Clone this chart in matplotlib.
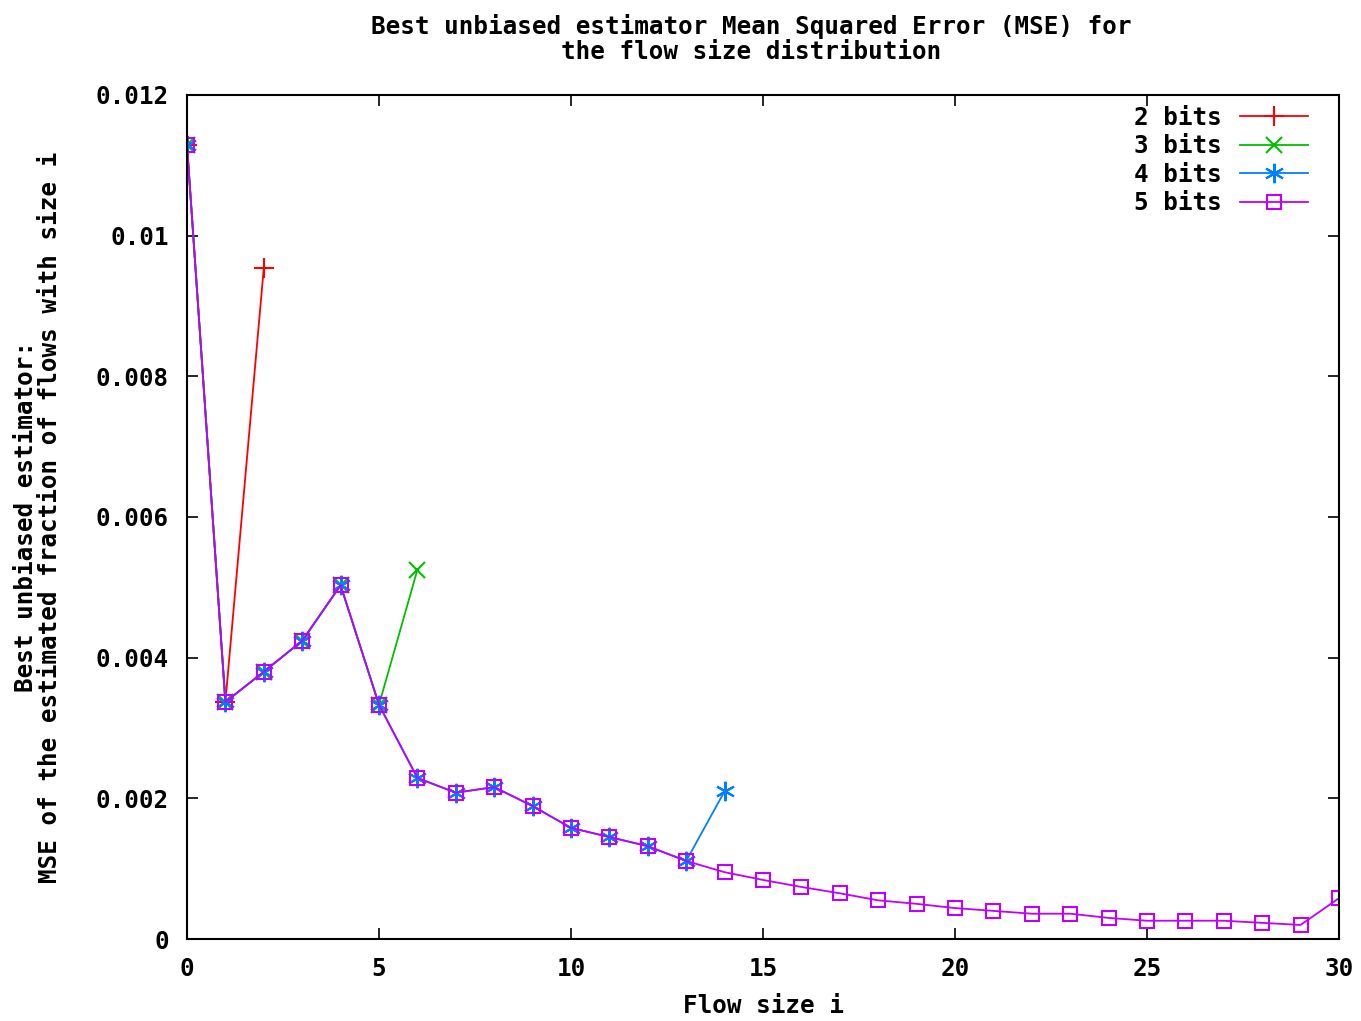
import numpy as np
import matplotlib.pyplot as plt
from matplotlib.ticker import FuncFormatter

plt.rcParams['font.family'] = 'DejaVu Sans Mono'
plt.rcParams['font.weight'] = 'bold'

mse5 = [0.01129, 0.00337, 0.0038, 0.00424, 0.00503, 0.00333, 0.00229, 0.00208,
        0.00216, 0.00189, 0.00158, 0.00145, 0.00132, 0.00111, 0.00095, 0.00084,
        0.00074, 0.00065, 0.00055, 0.0005, 0.00044, 0.0004, 0.00036, 0.00036,
        0.0003, 0.00026, 0.00026, 0.00026, 0.00023, 0.0002, 0.00058]
mse2 = [0.01129, 0.00337, 0.00954]
mse3 = [0.01129, 0.00337, 0.0038, 0.00424, 0.00503, 0.00333, 0.00525]
mse4 = mse5[:14] + [0.0021]

series = [('2 bits', mse2, '#ff0000', '+', 14),
          ('3 bits', mse3, '#00c000', 'x', 12),
          ('4 bits', mse4, '#0080ff', (6, 2, 0), 14),
          ('5 bits', mse5, '#c000ff', 's', 10)]

fs = 17.5
fig = plt.figure(figsize=(13.61, 10.21), dpi=100)
ax = fig.add_axes([0.1374, 0.0803, 0.8464, 0.8267])

for name, vals, col, mk, ms in series:
    x = np.arange(len(vals))
    ax.plot(x, vals, color=col, marker=mk, markersize=ms,
            markerfacecolor='none', markeredgecolor=col, markeredgewidth=1.5,
            linewidth=1.3, label=name)

ax.set_xlim(0, 30)
ax.set_ylim(0, 0.012)
ax.set_xticks(np.arange(0, 31, 5))
ax.set_yticks(np.arange(0, 0.0121, 0.002))
ax.yaxis.set_major_formatter(FuncFormatter(lambda v, p: '0' if v == 0 else ('%.3f' % v).rstrip('0')))
ax.tick_params(direction='in', top=True, right=True, length=8, width=1.2,
               labelsize=fs, pad=13)
for s in ax.spines.values():
    s.set_linewidth(1.5)

ax.set_title('Best unbiased estimator Mean Squared Error (MSE) for\nthe flow size distribution',
             fontsize=fs, fontweight='bold', pad=26, linespacing=1.05, x=0.49)
ax.set_xlabel('Flow size i', fontsize=fs, fontweight='bold', labelpad=9)
ax.set_ylabel('Best unbiased estimator:\nMSE of the estimated fraction of flows with size i',
              fontsize=fs, fontweight='bold', labelpad=24, linespacing=1.0)

ax.legend(loc='upper right', bbox_to_anchor=(0.973, 0.987), markerfirst=False,
          frameon=False, fontsize=fs, handlelength=2.8, handletextpad=0.75,
          borderaxespad=0.0, labelspacing=0.18, borderpad=0.0)

fig.savefig('out.png', dpi=100)
